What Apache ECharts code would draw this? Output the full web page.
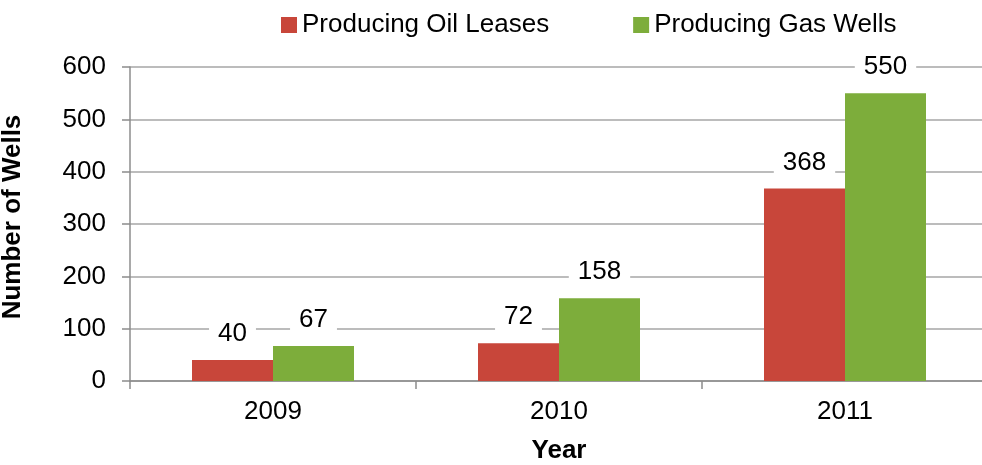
<!DOCTYPE html>
<html>
<head>
<meta charset="utf-8">
<script src="https://cdn.jsdelivr.net/npm/echarts@6/dist/echarts.min.js"></script>
<style>
  html, body { margin: 0; padding: 0; background: #fff; }
  #chart { width: 982px; height: 465px; }
</style>
</head>
<body>
<div id="chart"></div>
<script>
// Wells by year
const years = ['2009', '2010', '2011'];
const oilLeases = [40, 72, 368];
const gasWells = [67, 158, 550];
const yTicks = [0, 100, 200, 300, 400, 500, 600];

const FONT = '"Liberation Sans", Arial, sans-serif';
const RED = '#C8463A';
const GREEN = '#7DAD3B';
const AXIS_GREY = '#8c8c8c';

const valueLabel = {
  show: true,
  position: 'top',
  distance: 12,
  color: '#000',
  fontFamily: FONT,
  fontSize: 26,
  backgroundColor: '#fff',
  padding: [1, 9]
};

const chart = echarts.init(document.getElementById('chart'));
chart.setOption({
  animation: false,
  textStyle: { fontFamily: FONT },
  legend: {
    top: 7,
    left: 276,
    itemWidth: 16,
    itemHeight: 16,
    itemGap: 84,
    icon: 'rect',
    textStyle: { fontSize: 26, color: '#000', fontFamily: FONT },
    data: ['Producing Oil Leases', 'Producing Gas Wells']
  },
  // the plot runs a few pixels past the right edge of the canvas
  grid: { left: 130, width: 858, top: 67, bottom: 84, outerBoundsMode: 'none', containLabel: false },
  xAxis: {
    type: 'category',
    data: years,
    name: 'Year',
    nameLocation: 'middle',
    nameGap: 57,
    nameTextStyle: { fontSize: 26, fontWeight: 'bold', color: '#000', fontFamily: FONT },
    axisLine: { lineStyle: { color: AXIS_GREY, width: 1.5 } },
    axisTick: { show: true, length: 8, lineStyle: { color: AXIS_GREY, width: 1.5 } },
    axisLabel: { fontSize: 26, color: '#000', margin: 18, fontFamily: FONT }
  },
  yAxis: {
    type: 'value',
    min: yTicks[0],
    max: yTicks[yTicks.length - 1],
    interval: 100,
    name: 'Number of Wells',
    nameLocation: 'middle',
    nameGap: 104,
    nameTextStyle: {
      fontSize: 26, fontWeight: 'bold', color: '#000', fontFamily: FONT,
      padding: [0, 0, 0, 14]
    },
    axisLine: { show: true, lineStyle: { color: AXIS_GREY, width: 1.5 } },
    axisTick: { show: true, length: 8, lineStyle: { color: AXIS_GREY, width: 1.5 } },
    splitLine: { lineStyle: { color: '#a6a6a6', width: 1.5 } },
    axisLabel: { fontSize: 26, color: '#000', margin: 24, fontFamily: FONT }
  },
  series: [
    {
      name: 'Producing Oil Leases',
      type: 'bar',
      data: oilLeases,
      barWidth: 81,
      barGap: '0%',
      itemStyle: { color: RED },
      label: valueLabel
    },
    {
      name: 'Producing Gas Wells',
      type: 'bar',
      data: gasWells,
      barWidth: 81,
      barGap: '0%',
      itemStyle: { color: GREEN },
      label: valueLabel
    }
  ]
});
</script>
</body>
</html>
